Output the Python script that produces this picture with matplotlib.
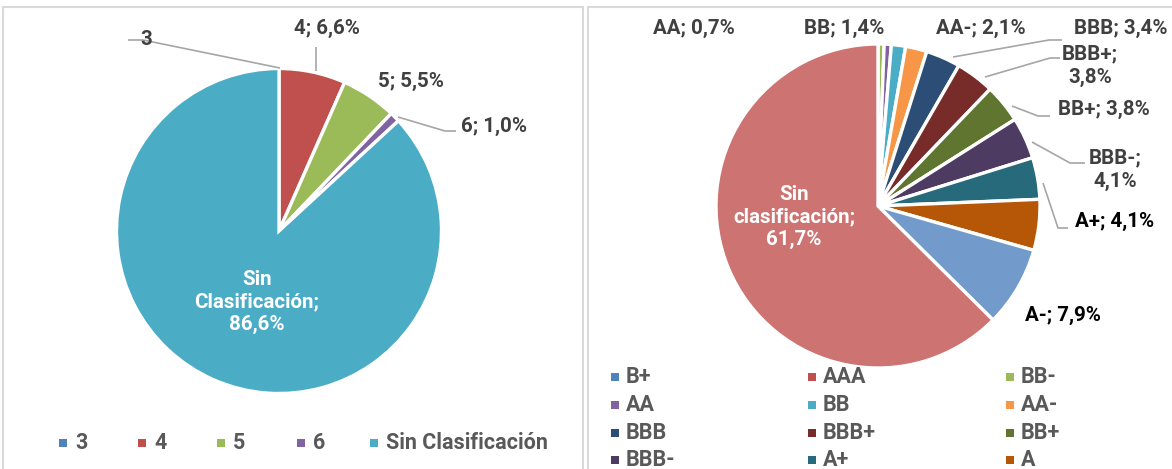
import matplotlib
matplotlib.use("Agg")
import matplotlib.pyplot as plt
from matplotlib.patches import Rectangle

W, H = 1172, 469

# ---------------- data ----------------
left_labels = ["3", "4", "5", "6", "Sin Clasificación"]
left_values = [0.0, 6.6, 5.5, 1.0, 86.6]
left_colors = ["#4F81BD", "#C0504D", "#9BBB59", "#8064A2", "#4BACC6"]

right_labels = ["B+", "AAA", "BB-", "AA", "BB", "AA-", "BBB", "BBB+", "BB+",
                "BBB-", "A+", "A", "A-", "Sin clasificación"]
right_values = [0.0, 0.0, 0.6, 0.7, 1.4, 2.1, 3.4, 3.8, 3.8, 4.1, 4.1, 5.0, 7.9, 61.7]
right_colors = ["#4F81BD", "#C0504D", "#9BBB59", "#8064A2", "#4BACC6", "#F79646",
                "#2C4D75", "#772C2A", "#5F7530", "#4D3B62", "#276A7C", "#B65708",
                "#729ACA", "#CD7371"]

plt.rcParams["font.family"] = ["Roboto", "DejaVu Sans"]
plt.rcParams["font.weight"] = "bold"

fig = plt.figure(figsize=(W / 100, H / 100), dpi=100)
ax = fig.add_axes([0, 0, 1, 1])


def P(x, y):
    # pixel coords (top-left origin) -> data coords
    return x, H - y


def pct(v):
    return f"{v:.1f}".replace(".", ",") + "%"


wp = dict(edgecolor="white", linewidth=2.4)
ax.pie(left_values, colors=left_colors, startangle=90, counterclock=False,
       center=P(279, 231), radius=162.5, wedgeprops=wp)
ax.pie(right_values, colors=right_colors, startangle=90, counterclock=False,
       center=P(878, 206), radius=162, wedgeprops=wp)

# panel borders
ax.add_patch(Rectangle(P(3, 480), 580, 473, fill=False, ec="#D9D9D9", lw=1.5))
ax.add_patch(Rectangle(P(588, 480), 600, 473, fill=False, ec="#D9D9D9", lw=1.5))

lab = dict(fontsize=14.8, fontweight="bold", color="#404040", ha="center", va="center")
lead = dict(color="#A6A6A6", lw=1.2, solid_capstyle="butt")


def leader(pts):
    xs, ys = zip(*[P(x, y) for x, y in pts])
    ax.plot(xs, ys, **lead)


# ---- left pie labels ----
leader([(128, 40), (143, 40), (280, 68)])
ax.text(*P(146, 39), left_labels[0], **lab)
leader([(316, 47), (316, 71)])
ax.text(*P(327, 28), f"{left_labels[1]}; {pct(left_values[1])}", **lab)
ax.text(*P(411, 81), f"{left_labels[2]}; {pct(left_values[2])}", **lab)
leader([(398, 117), (445, 131), (456, 131)])
ax.text(*P(494, 126), f"{left_labels[3]}; {pct(left_values[3])}", **lab)
ax.text(*P(257, 302), "Sin\nClasificación;\n" + pct(left_values[4]),
        linespacing=1.25, **{**lab, "color": "white"})

# ---- right pie labels ----
ax.text(*P(694, 28), f"{right_labels[3]}; {pct(right_values[3])}", **lab)
ax.text(*P(844, 28), f"{right_labels[4]}; {pct(right_values[4])}", **lab)
ax.text(*P(981, 28), f"{right_labels[5]}; {pct(right_values[5])}", **lab)
leader([(953, 57), (1049, 40), (1062, 40)])
ax.text(*P(1121, 28), f"{right_labels[6]}; {pct(right_values[6])}", **lab)
leader([(985, 77), (1050, 58), (1060, 58)])
ax.text(*P(1090, 66), f"{right_labels[7]};\n{pct(right_values[7])}", linespacing=1.3, **lab)
leader([(1012, 106), (1038, 116), (1050, 116)])
ax.text(*P(1104, 109), f"{right_labels[8]}; {pct(right_values[8])}", **lab)
leader([(1032, 142), (1070, 163), (1085, 163)])
ax.text(*P(1115, 170), f"{right_labels[9]};\n{pct(right_values[9])}", linespacing=1.3, **lab)
leader([(1043, 183), (1058, 228), (1068, 228)])
ax.text(*P(1115, 221), f"{right_labels[10]}; {pct(right_values[10])}", **{**lab, "color": "black"})
ax.text(*P(1063, 315), f"{right_labels[12]}; {pct(right_values[12])}", **{**lab, "color": "black"})
ax.text(*P(794, 217), "Sin\nclasificación;\n" + pct(right_values[13]),
        linespacing=1.25, **{**lab, "color": "white"})

# ---- legends ----
leg = dict(fontsize=15.5, fontweight="bold", color="#595959", ha="left", va="center")
sq = 8
left_leg_x = [59, 138, 217, 297, 370]
for i, name in enumerate(left_labels):
    x0, y0 = left_leg_x[i], 443
    ax.add_patch(Rectangle(P(x0, y0 + sq / 2), sq, sq, color=left_colors[i], lw=0))
    ax.text(*P(x0 + 16, y0), name, **leg)

right_leg_x = [611, 808, 1006]
right_leg_y = [377, 405, 433, 460]
for i, name in enumerate(right_labels[:12]):
    x0, y0 = right_leg_x[i % 3], right_leg_y[i // 3]
    ax.add_patch(Rectangle(P(x0, y0 + sq / 2), sq, sq, color=right_colors[i], lw=0))
    ax.text(*P(x0 + 15, y0), name, **leg)

ax.set_xlim(0, W)
ax.set_ylim(0, H)
ax.set_aspect("auto")
ax.axis("off")

fig.savefig("out.png", dpi=100, facecolor="white")
